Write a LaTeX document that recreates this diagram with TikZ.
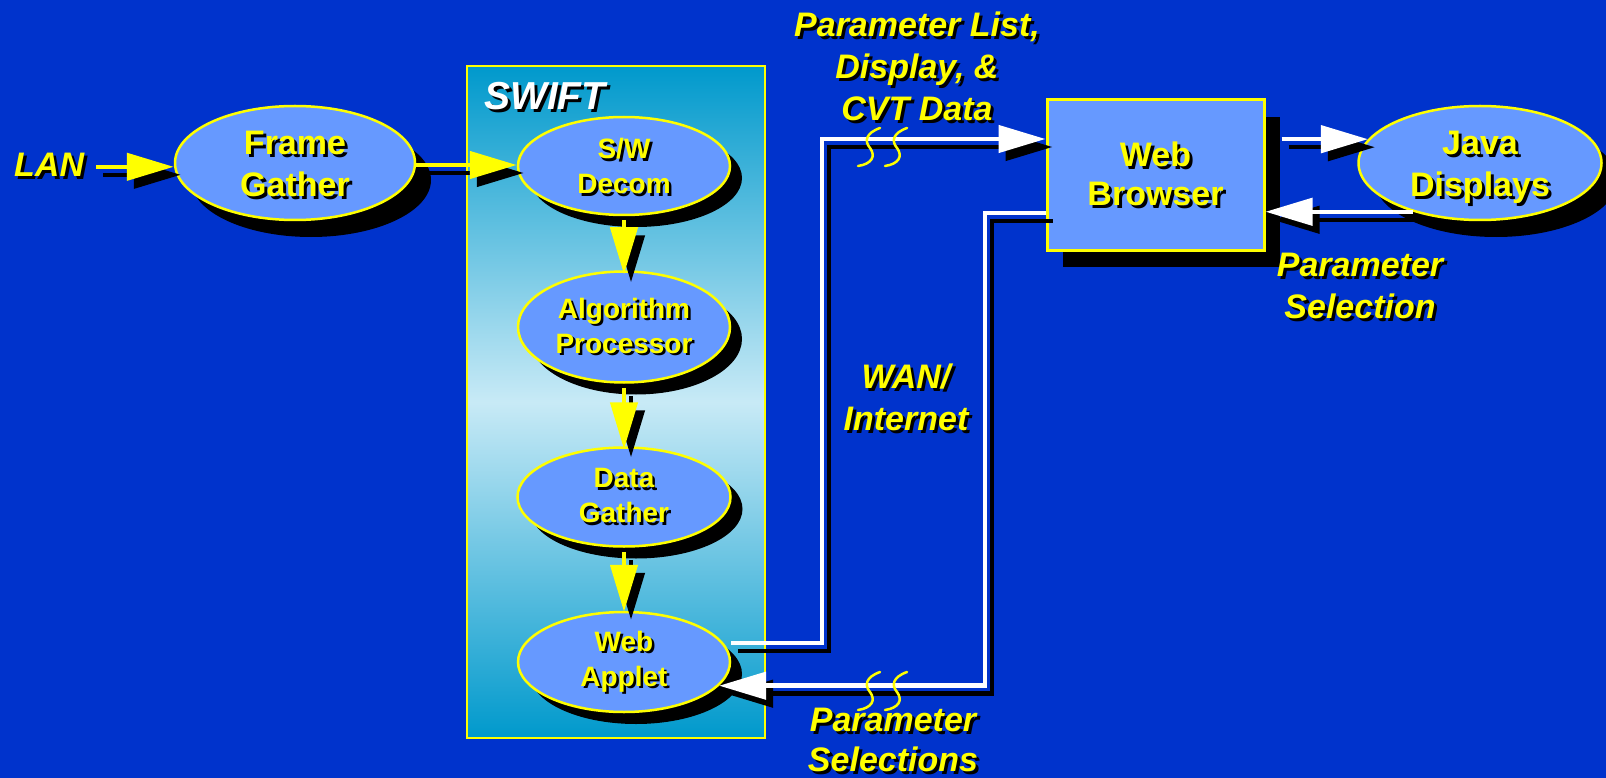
\documentclass[tikz,border=0pt]{standalone}
\usepackage{fontspec}
\setmainfont{Liberation Sans}
\usetikzlibrary{shapes.geometric,shadows,arrows.meta,calc}
\definecolor{bgblue}{RGB}{0,51,204}
\definecolor{ellfill}{RGB}{102,153,255}
\definecolor{ylw}{RGB}{255,255,0}
\definecolor{swtop}{RGB}{0,153,204}
\definecolor{swmid}{RGB}{200,234,246}
\newcommand\dup[2][0pt]{\raisebox{-#1}[\height][\depth]{\rlap{\kern3pt\raisebox{-3pt}{\color{black}#2}}#2}}
\newcommand\dups[2][0pt]{\raisebox{-#1}[\height][\depth]{\rlap{\kern2.5pt\raisebox{-2.5pt}{\color{black}#2}}#2}}
\newcommand\conn[2]{\draw[#1,color=black,transform canvas={shift={(7pt,-8pt)}}] #2;\draw[#1] #2;}
\newcommand\squiggle[1]{\draw[squig, shift={#1}] (0,0) .. controls (-14,5) and (-16,13) .. (-10,20) .. controls (-4,28) and (-8,36) .. (-22,38);}
\begin{document}
\begin{tikzpicture}[x=1pt,y=-1pt,
  bigell/.style={ellipse, draw=ylw, line width=2.5pt, fill=ellfill, inner sep=0pt, text=ylw, align=center,
    font=\fontsize{34}{42}\selectfont\bfseries,
    drop shadow={shadow xshift=16pt, shadow yshift=-17pt, opacity=1, fill=black}},
  smallell/.style={ellipse, draw=ylw, line width=2.5pt, fill=ellfill, inner sep=0pt, text=ylw, align=center,
    font=\fontsize{28}{35}\selectfont\bfseries,
    drop shadow={shadow xshift=12pt, shadow yshift=-12pt, opacity=1, fill=black}},
  lbl/.style={text=ylw, align=center, inner sep=0pt, font=\fontsize{34}{42}\selectfont\bfseries\itshape},
  yline/.style={color=ylw, line width=4.5pt},
  wline/.style={color=white, line width=4.5pt},
  tip/.style={-{Triangle[length=47pt,width=27pt]}},
  squig/.style={draw=ylw, line width=2.5pt, line cap=round},
]
\fill[bgblue] (0,0) rectangle (1606,778);
\useasboundingbox (0,0) rectangle (1606,778);

% SWIFT container
\node[draw=ylw, line width=2.5pt, top color=swtop, bottom color=swtop, middle color=swmid,
  minimum width=298pt, minimum height=672pt, inner sep=0pt] (swift) at (616,402) {};
\node[text=white, font=\fontsize{39}{46}\selectfont\bfseries\itshape, anchor=base west, inner sep=0pt]
  (swlbl) at (484,110) {\dup{SWIFT}};

% nodes
\node[bigell, minimum width=240pt, minimum height=114pt] (fg) at (295,163) {\dup[2.5pt]{Frame}\\\dup[2.5pt]{Gather}};
\node[smallell, minimum width=212pt, minimum height=98pt] (sw) at (624,166) {\dups[1.5pt]{S/W}\\\dups[1.5pt]{Decom}};
\node[smallell, minimum width=212pt, minimum height=111pt] (ap) at (624,327) {\dups{Algorithm}\\\dups{Processor}};
\node[smallell, minimum width=213pt, minimum height=99pt] (dg) at (624,497) {\dups{Data}\\\dups{Gather}};
\node[smallell, minimum width=212pt, minimum height=100pt] (wa) at (624,662) {\dups[1pt]{Web}\\\dups[1pt]{Applet}};
\node[bigell, minimum width=243pt, minimum height=114pt] (jd) at (1480,163) {\dup[6pt]{Java}\\\dup[6pt]{Displays}};
\node[rectangle, draw=ylw, line width=3pt, fill=ellfill, text=ylw, align=center,
  font=\fontsize{34}{39}\selectfont\bfseries, minimum width=217pt, minimum height=150pt, inner sep=0pt,
  drop shadow={shadow xshift=16pt, shadow yshift=-17pt, opacity=1, fill=black}]
  (wb) at (1155.5,175) {\dup{Web}\\\dup{Browser}};
\node[lbl, anchor=base west] (lan) at (14,177) {\dup{LAN}};

% yellow connectors
\conn{yline,tip,shorten <=12pt}{(lan.east) -- (lan.east -| fg.west)}
\conn{yline,tip}{([yshift=-2pt]fg.east) -- ([yshift=-2pt]fg.east -| sw.west)}
\conn{yline,tip,shorten <=4pt,shorten >=-4pt}{(sw.south) -- (ap.north)}
\conn{yline,tip,shorten <=4pt,shorten >=-3pt}{(ap.south) -- (dg.north)}
\conn{yline,tip,shorten <=4pt,shorten >=-1pt}{(dg.south) -- (wa.north)}

% white connectors
\coordinate (b1) at (822,643);
\coordinate (b2) at (822,139);
\coordinate (b3) at (985,213);
\conn{wline,tip}{(wa.east |- b1) -- (b1) -- (b2) -- (b2 -| wb.west)}
\conn{wline,tip}{(wb.west |- b3) -- (b3) |- (wa.-14.5)}
\conn{wline,tip,shorten <=16pt}{(jd.168.9 -| wb.east) -- (jd.168.9)}
\conn{wline,tip}{(jd.216.4) -- (jd.216.4 -| wb.east)}

% break marks
\squiggle{(880,128)}
\squiggle{(907,128)}
\squiggle{(880,672)}
\squiggle{(907,672)}

% labels
\node[lbl] (plist) at (917,68) {\dup{Parameter List,}\\\dup{Display, \&}\\\dup{CVT Data}};
\node[lbl] (wan) at (906,399) {\dup{WAN/}\\\dup{Internet}};
\node[lbl] (psel) at (1360,287) {\dup{Parameter}\\\dup{Selection}};
\node[lbl, font=\fontsize{34}{40}\selectfont\bfseries\itshape] (psels) at (893,741) {\dup{Parameter}\\\dup{Selections}};
\end{tikzpicture}
\end{document}
